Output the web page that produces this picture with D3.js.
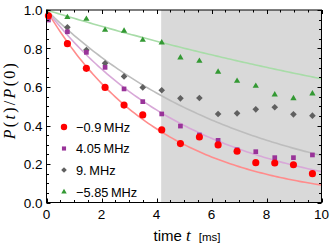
<!DOCTYPE html>
<html><head><meta charset="utf-8">
<script src="https://cdn.jsdelivr.net/npm/d3@7"></script>
<style>body{margin:0;background:#fff}svg{display:block}</style>
</head><body>
<svg id="c" width="332" height="249"></svg>
<script>
const times = [0.07,0.76,1.45,2.13,2.82,3.5,4.19,4.87,5.56,6.24,6.93,7.61,8.3,8.98,9.67];
const redVals    = [0.97,0.825,0.697,0.598,0.506,0.455,0.377,0.306,0.34,0.299,0.266,0.207,0.205,0.196,0.15];
const purpleVals = [0.948,0.887,0.78,0.702,0.59,0.524,0.46,0.397,0.351,0.323,0.274,0.264,0.233,0.233,0.247];
const grayVals   = [0.969,0.91,0.792,0.723,0.655,0.598,0.583,0.541,0.543,0.46,0.463,0.484,0.495,0.458,0.451];
const greenVals  = [0.974,0.962,0.953,0.896,0.891,0.844,0.83,0.752,0.735,0.678,0.631,0.605,0.56,0.541,0.565];
const seriesNames = ["\u22120.9\u2009MHz","4.05\u2009MHz","9.\u2009MHz","\u22125.85\u2009MHz"];
const fitRates = [0.24,0.183,0.141,0.0442];
const shadeRange = [4.17,10];
const xTicks = [0,2,4,6,8,10];
const yTicks = [0,0.2,0.4,0.6,0.8,1.0];

const seriesVals = [redVals,purpleVals,grayVals,greenVals];
const markerCol = ["#ff0000","#993399","#606060","#339933"];
const lineCol = ["#ff8c8c","#d8a8d8","#bdbdbd","#a8dca8"];

// custom symbols
const diamond = {draw(ctx,size){const r=Math.sqrt(size/2);ctx.moveTo(0,-r);ctx.lineTo(r,0);ctx.lineTo(0,r);ctx.lineTo(-r,0);ctx.closePath();}};
const shapes = [d3.symbolCircle,d3.symbolSquare,diamond,d3.symbolTriangle];
const sizes = [40,22,22,17];
const legSizes = [32,17,16,13];

const svg = d3.select("#c");
const x = d3.scaleLinear().domain([0,10]).range([46.5,321.5]);
const y = d3.scaleLinear().domain([0,1]).range([202.5,10]);

// shaded region
svg.append("rect").attr("x",x(shadeRange[0])).attr("y",y(1))
  .attr("width",x(shadeRange[1])-x(shadeRange[0])).attr("height",y(0)-y(1))
  .attr("fill","#d9d9d9");

// fit lines
const tt = d3.range(0,10.001,0.1);
const line = d3.line().x(d=>x(d[0])).y(d=>y(d[1]));
fitRates.forEach((k,i)=>{
  svg.append("path").datum(tt.map(t=>[t,Math.exp(-k*t)]))
    .attr("d",line).attr("fill","none").attr("stroke",lineCol[i]).attr("stroke-width",1.6);
});

// points
[3,2,1,0].forEach(i=>{
  const sym = d3.symbol().type(shapes[i]).size(sizes[i]);
  svg.append("g").selectAll("path").data(seriesVals[i]).join("path")
    .attr("d",sym)
    .attr("transform",(d,j)=>`translate(${x(times[j])},${y(d)})`)
    .attr("fill",markerCol[i]);
});

// frame
svg.append("rect").attr("x",x(0)).attr("y",y(1)).attr("width",x(10)-x(0)).attr("height",y(0)-y(1))
  .attr("fill","none").attr("stroke","#000").attr("stroke-width",1);

// ticks inward on all sides
const tg = svg.append("g").attr("stroke","#000").attr("stroke-width",1);
d3.range(0,10.001,0.5).forEach(v=>{
  const major = Math.abs(v/2-Math.round(v/2))<1e-6;
  const L = major?4:2.5;
  const px = Math.round(x(v))+0.5;
  tg.append("line").attr("x1",px).attr("x2",px).attr("y1",y(0)).attr("y2",y(0)-L);
  tg.append("line").attr("x1",px).attr("x2",px).attr("y1",y(1)).attr("y2",y(1)+L);
});
d3.range(0,1.0001,0.05).forEach(v=>{
  const major = Math.abs(v/0.2-Math.round(v/0.2))<1e-6;
  const L = major?4:2.5;
  const py = Math.round(y(v))+0.5;
  tg.append("line").attr("y1",py).attr("y2",py).attr("x1",x(0)).attr("x2",x(0)+L);
  tg.append("line").attr("y1",py).attr("y2",py).attr("x1",x(10)).attr("x2",x(10)-L);
});

// tick labels
const font = "'Liberation Sans', Arial, Helvetica, sans-serif";
const serif = "'Liberation Serif', 'Times New Roman', serif";
svg.append("g").selectAll("text").data(xTicks).join("text")
  .attr("x",d=>x(d)).attr("y",219).attr("text-anchor","middle")
  .attr("font-family",font).attr("font-size",13.5).text(d=>d);
svg.append("g").selectAll("text").data(yTicks).join("text")
  .attr("x",42.5).attr("y",d=>y(d)+5).attr("text-anchor","end")
  .attr("font-family",font).attr("font-size",13.5).text(d=>d.toFixed(1));

// axis titles
const xt = svg.append("text").attr("x",187).attr("y",240.5).attr("text-anchor","middle")
  .attr("font-family",font).attr("font-size",15);
xt.append("tspan").text("time ");
xt.append("tspan").attr("font-family",serif).attr("font-style","italic").attr("font-size",17).text("t");
xt.append("tspan").attr("font-size",11.5).attr("dx",8).text("[ms]");

const yt = svg.append("text").attr("transform","translate(15,100) rotate(-90)").attr("text-anchor","middle")
  .attr("font-family",serif).attr("font-size",16).attr("letter-spacing",2.3);
[["P",1],["(",0],["t",1],[")",0],["/",0],["P",1],["(0)",0]].forEach(([s,it])=>{
  yt.append("tspan").attr("font-style",it?"italic":"normal").text(s);
});

// legend
const legY = [127,148.5,170,192];
seriesNames.forEach((nm,i)=>{
  svg.append("path").attr("d",d3.symbol().type(shapes[i]).size(legSizes[i]))
    .attr("transform",`translate(64,${legY[i]})`).attr("fill",markerCol[i]);
  svg.append("text").attr("x",76).attr("y",legY[i]+4.5).attr("font-family",font)
    .attr("font-size",12.8).text(nm);
});
</script>
</body></html>
